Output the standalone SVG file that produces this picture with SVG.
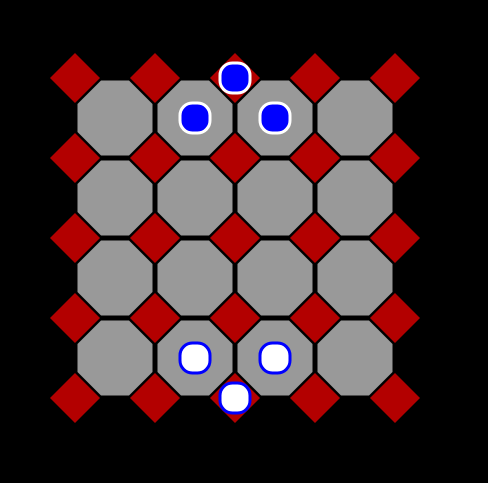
<svg xmlns="http://www.w3.org/2000/svg" xmlns:xlink="http://www.w3.org/1999/xlink" width="488" height="483" viewBox="0 0 488 483">
<style>
.oct{fill:#999999}
.dia{fill:#b30000}
.pb{fill:#0000ff;stroke:#ffffff;stroke-width:3}
.pw{fill:#ffffff;stroke:#0000ff;stroke-width:3}
</style>
<defs>
<path id="o" d="M-14,-37.5 L14,-37.5 L37.5,-14 L37.5,14 L14,37.5 L-14,37.5 L-37.5,14 L-37.5,-14 Z"/>
<path id="d" d="M0,-25 L25,0 L0,25 L-25,0 Z"/>
<rect id="p" x="-15" y="-15" width="30" height="30" rx="12.5" ry="12.5"/>
</defs>
<rect width="488" height="483" fill="#000000"/>
<g id="octagons" class="oct">
<use xlink:href="#o" x="115" y="118"/><use xlink:href="#o" x="195" y="118"/><use xlink:href="#o" x="275" y="118"/><use xlink:href="#o" x="355" y="118"/>
<use xlink:href="#o" x="115" y="198"/><use xlink:href="#o" x="195" y="198"/><use xlink:href="#o" x="275" y="198"/><use xlink:href="#o" x="355" y="198"/>
<use xlink:href="#o" x="115" y="278"/><use xlink:href="#o" x="195" y="278"/><use xlink:href="#o" x="275" y="278"/><use xlink:href="#o" x="355" y="278"/>
<use xlink:href="#o" x="115" y="358"/><use xlink:href="#o" x="195" y="358"/><use xlink:href="#o" x="275" y="358"/><use xlink:href="#o" x="355" y="358"/>
</g>
<g id="diamonds" class="dia">
<use xlink:href="#d" x="75" y="78"/><use xlink:href="#d" x="155" y="78"/><use xlink:href="#d" x="235" y="78"/><use xlink:href="#d" x="315" y="78"/><use xlink:href="#d" x="395" y="78"/>
<use xlink:href="#d" x="75" y="158"/><use xlink:href="#d" x="155" y="158"/><use xlink:href="#d" x="235" y="158"/><use xlink:href="#d" x="315" y="158"/><use xlink:href="#d" x="395" y="158"/>
<use xlink:href="#d" x="75" y="238"/><use xlink:href="#d" x="155" y="238"/><use xlink:href="#d" x="235" y="238"/><use xlink:href="#d" x="315" y="238"/><use xlink:href="#d" x="395" y="238"/>
<use xlink:href="#d" x="75" y="318"/><use xlink:href="#d" x="155" y="318"/><use xlink:href="#d" x="235" y="318"/><use xlink:href="#d" x="315" y="318"/><use xlink:href="#d" x="395" y="318"/>
<use xlink:href="#d" x="75" y="398"/><use xlink:href="#d" x="155" y="398"/><use xlink:href="#d" x="235" y="398"/><use xlink:href="#d" x="315" y="398"/><use xlink:href="#d" x="395" y="398"/>
</g>
<g id="blue-pieces" class="pb">
<use xlink:href="#p" x="235" y="78"/>
<use xlink:href="#p" x="195" y="118"/>
<use xlink:href="#p" x="275" y="118"/>
</g>
<g id="white-pieces" class="pw">
<use xlink:href="#p" x="195" y="358"/>
<use xlink:href="#p" x="275" y="358"/>
<use xlink:href="#p" x="235" y="398"/>
</g>
</svg>
